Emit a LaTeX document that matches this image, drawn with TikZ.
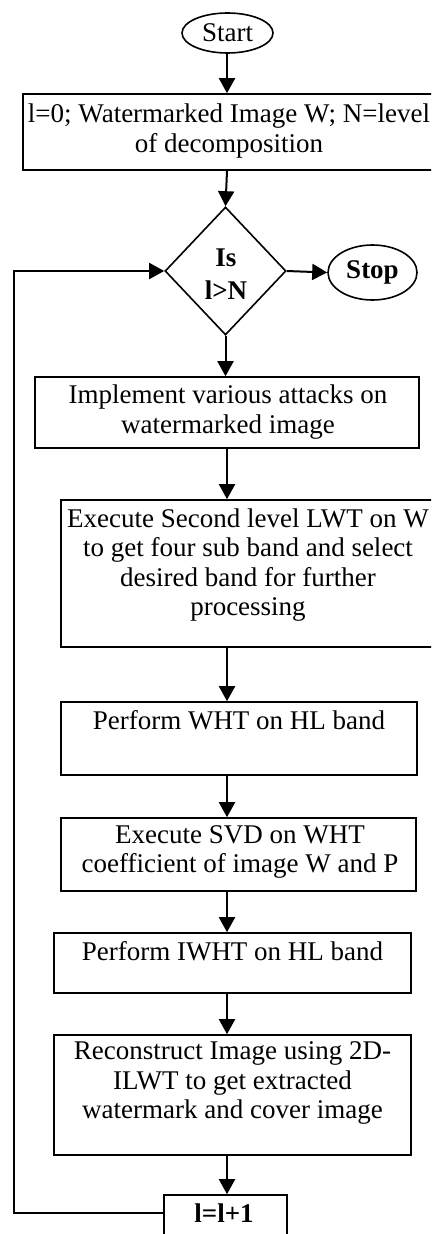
\documentclass[tikz,border=0pt]{standalone}
\usepackage{fontspec}
\setmainfont{Liberation Serif}
\usetikzlibrary{shapes.geometric,arrows.meta}
\begin{document}
\begin{tikzpicture}[x=1pt,y=-1pt,
  boxshape/.style={draw,line width=1.6pt,inner sep=0pt,minimum width=#1},
  txt/.style={inner sep=0pt,align=center,font=\fontsize{27}{29.5}\selectfont},
  btxt/.style={inner sep=0pt,align=center,font=\fontsize{27}{29.5}\selectfont\bfseries},
  conn/.style={line width=2pt},
  arr/.style={line width=2pt,-{Triangle[length=15pt,width=16pt]}}]
\useasboundingbox (0,0) rectangle (431,1234);
\clip (0,0) rectangle (431,1234);
% shapes
\node[ellipse,draw,line width=1.6pt,minimum width=91pt,minimum height=40pt,inner sep=0pt] (start) at (227.5,33) {};
\node[txt] (tstart) at (227.5,33) {Start};
\node[boxshape=422pt,minimum height=76pt] (b1) at (234,132) {};
\node[txt] (t1) at (229,131) {l=0; Watermarked Image W; N=level\\of decomposition};
\node[diamond,draw,line width=1.6pt,minimum width=121pt,minimum height=128pt,inner sep=0pt,aspect=0.945] (dia) at (225.5,271) {};
\node[btxt] (tdia) at (226,274) {Is\\[3pt]l>N};
\node[ellipse,draw,line width=1.6pt,minimum width=89pt,minimum height=55pt,inner sep=0pt] (stop) at (372.5,272.5) {};
\node[btxt] (tstop) at (372.5,272) {Stop};
\node[boxshape=384pt,minimum height=71pt] (b2) at (227,412.5) {};
\node[txt] (t2) at (228,412) {Implement various attacks on\\watermarked image};
\node[boxshape=384pt,minimum height=147pt] (b3) at (253,573.5) {};
\node[txt] (t3) at (248,565) {Execute Second level LWT on W\\to get four sub band and select\\desired band for further\\processing};
\node[boxshape=356pt,minimum height=73pt] (b4) at (239,738.5) {};
\node[txt] (t4) at (239,720) {Perform WHT on HL band};
\node[boxshape=355pt,minimum height=73pt] (b5) at (238.5,854.5) {};
\node[txt] (t5) at (240,852) {Execute SVD on WHT\\coefficient of image W and P};
\node[boxshape=357pt,minimum height=60pt] (b6) at (232.5,963) {};
\node[txt] (t6) at (232.5,951) {Perform IWHT on HL band};
\node[boxshape=357pt,minimum height=120pt] (b7) at (232.5,1095) {};
\node[txt] (t7) at (232.5,1083) {Reconstruct Image using 2D-\\ILWT to get extracted\\watermark and cover image};
\node[boxshape=123pt,minimum height=55pt] (b8) at (225.5,1222.5) {};
\node[btxt] (t8) at (224,1213) {l=l+1};
% connectors
\coordinate (ax) at (227,0);
\coordinate (lc1) at (14,1213);
\coordinate (lc2) at (14,271);
\draw[arr] (start.south -| ax) -- (b1.north -| ax);
\draw[arr] (b1.south -| ax) -- (dia.north);
\draw[arr] (dia.east) -- (stop.west);
\draw[arr] (dia.south) -- (b2.north -| dia.south);
\draw[arr] (b2.south -| ax) -- (b3.north -| ax);
\draw[arr] (b3.south -| ax) -- (b4.north -| ax);
\draw[arr] (b4.south -| ax) -- (b5.north -| ax);
\draw[arr] (b5.south -| ax) -- (b6.north -| ax);
\draw[arr] (b6.south -| ax) -- (b7.north -| ax);
\draw[arr] (b7.south -| ax) -- (b8.north -| ax);
\draw[arr] (b8.west |- t8) -- (lc1) -- (lc2) -- (dia.west);
\end{tikzpicture}
\end{document}
